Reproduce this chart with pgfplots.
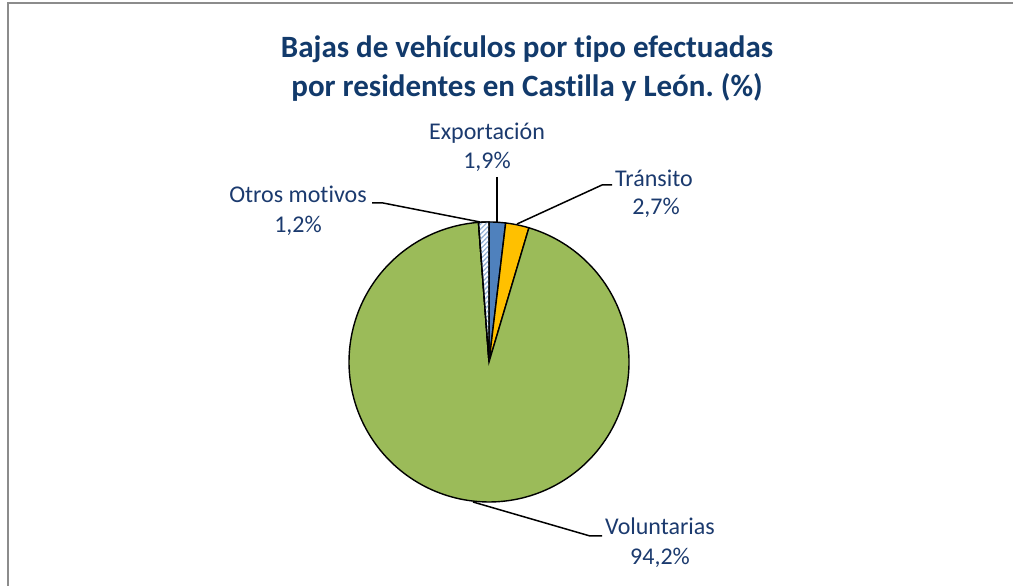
\documentclass[border=0pt]{standalone}
\usepackage{pgfplots}
\pgfplotsset{compat=1.18}
\usepackage{pgfplotstable}
\usepackage{fontspec}
\setmainfont{Carlito}[Ligatures=NoCommon]
\usetikzlibrary{patterns.meta}
\definecolor{titleblue}{HTML}{123A6B}
\definecolor{labblue}{HTML}{1B3A6E}
\definecolor{cexp}{HTML}{4F81BD}
\definecolor{ctra}{HTML}{FFC000}
\definecolor{cvol}{HTML}{9BBB59}
\definecolor{chat}{HTML}{95B3D7}
\definecolor{framec}{HTML}{8C8C8C}
\frenchspacing

\pgfplotstableread{
label value
Exportacion 1.9
Transito 2.7
Voluntarias 94.2
Otros 1.2
}\piedata

\begin{document}
\begin{tikzpicture}[x=1bp,y=1bp]
\useasboundingbox (0,0) rectangle (1013,586);
\pgfplotstablegetelem{0}{value}\of\piedata \let\vA\pgfplotsretval
\pgfplotstablegetelem{1}{value}\of\piedata \let\vB\pgfplotsretval
\pgfplotstablegetelem{2}{value}\of\piedata \let\vC\pgfplotsretval
\pgfplotstablegetelem{3}{value}\of\piedata \let\vD\pgfplotsretval
\pgfmathsetmacro{\aA}{90}
\pgfmathsetmacro{\aB}{\aA-3.6*\vA}
\pgfmathsetmacro{\aC}{\aB-3.6*\vB}
\pgfmathsetmacro{\aD}{\aC-3.6*\vC}
\pgfmathsetmacro{\aE}{\aD-3.6*\vD}
\begin{axis}[at={(0,0)}, anchor=south west, width=1013bp, height=586bp,
  scale only axis, xmin=0, xmax=1013, ymin=0, ymax=586, hide axis, clip=false]
% slices
\addplot[fill=cexp, draw=black, line width=1.4bp, domain=\aB:\aA, samples=12, variable=\t]
  ({489+140*cos(\t)},{224+140*sin(\t)}) -- (axis cs:489,224) -- cycle;
\addplot[fill=ctra, draw=black, line width=1.4bp, domain=\aC:\aB, samples=12, variable=\t]
  ({489+140*cos(\t)},{224+140*sin(\t)}) -- (axis cs:489,224) -- cycle;
\addplot[fill=cvol, draw=black, line width=1.4bp, domain=\aD:\aC, samples=200, variable=\t]
  ({489+140*cos(\t)},{224+140*sin(\t)}) -- (axis cs:489,224) -- cycle;
\addplot[fill=white, draw=black, line width=1.4bp, domain=\aE:\aD, samples=10, variable=\t,
  postaction={pattern={Lines[angle=45,distance=3.5bp,line width=1.3bp]}, pattern color=chat}]
  ({489+140*cos(\t)},{224+140*sin(\t)}) -- (axis cs:489,224) -- cycle;
% leader lines
\addplot[black, line width=1.5bp] coordinates {(497,409) (497,364)};
\addplot[black, line width=1.5bp] coordinates {(517,362) (602,401) (612,401)};
\addplot[black, line width=1.5bp] coordinates {(372,383) (383,383) (480,364)};
\addplot[black, line width=1.5bp] coordinates {(473,84) (590,50) (602,50)};
% labels
\begin{scope}[every node/.style={anchor=base, inner sep=0pt, text=labblue, font=\fontsize{24bp}{28bp}\selectfont}]
\node at (axis cs:487,446) {Exportación};
\node at (axis cs:487,417) {1,9\%};
\node at (axis cs:654,399) {Tránsito};
\node at (axis cs:656,371) {2,7\%};
\node at (axis cs:298,383) {Otros motivos};
\node at (axis cs:298,353) {1,2\%};
\node at (axis cs:660,51) {Voluntarias};
\node at (axis cs:660,21) {94,2\%};
\end{scope}
\node[anchor=base, inner sep=0pt, text=titleblue, font=\bfseries\fontsize{31bp}{36bp}\selectfont] at (axis cs:527,528) {Bajas de vehículos por tipo efectuadas};
\node[anchor=base, inner sep=0pt, text=titleblue, font=\bfseries\fontsize{31bp}{36bp}\selectfont] at (axis cs:527,489) {por residentes en Castilla y León. (\%)};
% frame
\draw[framec, line width=2bp] (axis cs:8,0) -- (axis cs:8,583) -- (axis cs:1013,583);
\end{axis}
\end{tikzpicture}
\end{document}
